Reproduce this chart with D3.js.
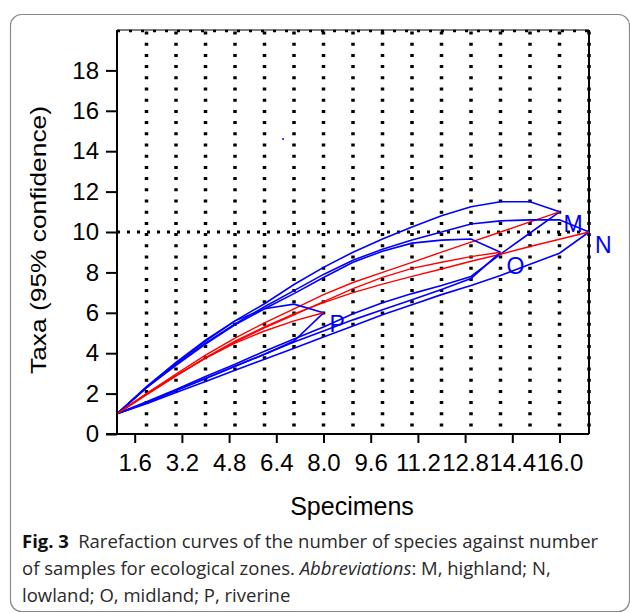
<!DOCTYPE html>
<html>
<head>
<meta charset="utf-8">
<script src="https://cdn.jsdelivr.net/npm/d3@7"></script>
<style>
body { margin: 0; background: #fff; }
svg { display: block; }
.tick-label { font-family: "Liberation Sans", Arial, sans-serif; font-size: 24px; fill: #000; }
.zone-label { font-family: "Liberation Sans", Arial, sans-serif; font-size: 23px; fill: #0000ff; }
.caption { font-family: "Open Sans", sans-serif; font-size: 18.5px; fill: #2a2a2a; }
</style>
</head>
<body>
<div id="chart"></div>
<script>
// x ticks and y ticks as printed in the figure
const xTicks = [1.6, 3.2, 4.8, 6.4, 8.0, 9.6, 11.2, 12.8, 14.4, 16.0]
const xTickLabels = ['1.6', '3.2', '4.8', '6.4', '8.0', '9.6', '11.2', '12.8', '14.4', '16.0']
const yTicks = [0, 2, 4, 6, 8, 10, 12, 14, 16, 18]
const gridX = [2, 3, 4, 5, 6, 7, 8, 9, 10, 11, 12, 13, 14, 15, 16]
const gridY = [10]

// specimens (sample count) for each zone
const specM = [1, 2, 3, 4, 5, 6, 7, 8, 9, 10, 11, 12, 13, 14, 15, 16]
const specN = [1, 2, 3, 4, 5, 6, 7, 8, 9, 10, 11, 12, 13, 14, 15, 16, 17]
const specO = [1, 2, 3, 4, 5, 6, 7, 8, 9, 10, 11, 12, 13, 14]
const specP = [1, 2, 3, 4, 5, 6, 7, 8]

// M highland
const meanM  = [1, 2.0, 2.97, 3.9, 4.75, 5.5, 6.2, 6.9, 7.5, 8.0, 8.5, 9.0, 9.5, 10.0, 10.5, 11]
const upperM = [1, 2.35, 3.55, 4.65, 5.6, 6.45, 7.4, 8.25, 9.0, 9.65, 10.25, 10.8, 11.25, 11.5, 11.5, 11]
const lowerM = [1, 1.6, 2.2, 2.85, 3.45, 4.1, 4.7, 5.3, 5.95, 6.5, 6.95, 7.35, 7.8, 8.9, 9.95, 11]
// N lowland
const meanN  = [1, 1.95, 2.88, 3.78, 4.6, 5.3, 5.95, 6.5, 7.0, 7.42, 7.8, 8.17, 8.55, 8.9, 9.28, 9.64, 10]
const upperN = [1, 2.3, 3.45, 4.5, 5.45, 6.3, 7.1, 7.9, 8.6, 9.15, 9.6, 10.0, 10.4, 10.55, 10.6, 10.6, 10]
const lowerN = [1, 1.5, 2.05, 2.6, 3.15, 3.7, 4.25, 4.8, 5.35, 5.9, 6.4, 6.9, 7.35, 7.85, 8.4, 8.95, 10]
// O midland
const meanO  = [1, 1.95, 2.88, 3.75, 4.55, 5.25, 5.9, 6.55, 7.2, 7.75, 8.2, 8.5, 8.78, 9]
const upperO = [1, 2.3, 3.4, 4.45, 5.4, 6.2, 6.95, 7.75, 8.5, 9.05, 9.45, 9.6, 9.65, 9]
const lowerO = [1, 1.55, 2.15, 2.75, 3.35, 3.95, 4.55, 5.1, 5.65, 6.15, 6.65, 7.15, 7.7, 9]
// P riverine
const meanP  = [1, 2.0, 2.9, 3.75, 4.5, 5.1, 5.6, 6]
const upperP = [1, 2.3, 3.5, 4.6, 5.6, 6.2, 6.43, 6]
const lowerP = [1, 1.55, 2.15, 2.75, 3.35, 3.95, 4.6, 6]

const zoneNames = ['M', 'N', 'O', 'P']
const strayDot = [6.63, 14.6]

const zones = [
  {name: zoneNames[0], x: specM, mean: meanM, upper: upperM, lower: lowerM, dx: 4, dy: 20},
  {name: zoneNames[1], x: specN, mean: meanN, upper: upperN, lower: lowerN, dx: 6, dy: 21},
  {name: zoneNames[2], x: specO, mean: meanO, upper: upperO, lower: lowerO, dx: 6, dy: 22},
  {name: zoneNames[3], x: specP, mean: meanP, upper: upperP, lower: lowerP, dx: 6, dy: 19}
]

const width = 630, height = 613

const svg = d3.select('#chart')
.append('svg')
.attr('width', width)
.attr('height', height)

// caption box
svg.append('rect')
.attr('x', 10.5).attr('y', 14.5)
.attr('width', 619).attr('height', 597)
.attr('rx', 11)
.attr('fill', 'none')
.attr('stroke', '#8a8a8a')
.attr('stroke-width', 1.2)

const x = d3.scaleLinear().domain([1, 17]).range([117, 589])
const y = d3.scaleLinear().domain([0, 20]).range([434, 30])

// dotted grid
svg.selectAll('.vgrid')
.data(gridX)
.enter()
.append('line')
.attr('class', 'vgrid')
.attr('x1', d => x(d)).attr('x2', d => x(d))
.attr('y1', y(0)).attr('y2', y(20))
.attr('stroke', '#000')
.attr('stroke-width', 3.5)
.attr('stroke-dasharray', '3,8.2')
.attr('stroke-dashoffset', 3.7)

svg.selectAll('.hgrid')
.data(gridY)
.enter()
.append('line')
.attr('class', 'hgrid')
.attr('x1', x(1)).attr('x2', x(17))
.attr('y1', d => y(d)).attr('y2', d => y(d))
.attr('stroke', '#000')
.attr('stroke-width', 3)
.attr('stroke-dasharray', '3,7')

// frame: top dotted, right solid
svg.append('line')
.attr('x1', x(1)).attr('x2', x(17))
.attr('y1', y(20)).attr('y2', y(20))
.attr('stroke', '#000').attr('stroke-width', 1.2)
svg.append('line')
.attr('x1', x(1)).attr('x2', x(17))
.attr('y1', y(20) + 1).attr('y2', y(20) + 1)
.attr('stroke', '#000').attr('stroke-width', 2.5)
.attr('stroke-dasharray', '3,9')
svg.append('line')
.attr('x1', x(17)).attr('x2', x(17))
.attr('y1', y(20)).attr('y2', y(0))
.attr('stroke', '#000').attr('stroke-width', 2)
svg.append('line')
.attr('x1', x(17)).attr('x2', x(17))
.attr('y1', y(0)).attr('y2', y(20))
.attr('stroke', '#000').attr('stroke-width', 3.5)
.attr('stroke-dasharray', '3,8.2')
.attr('stroke-dashoffset', 3.7)

// curves
const line = d3.line()
.curve(d3.curveLinear)

zones.forEach(z => {
  const pts = key => z.x.map((s, i) => [x(s), y(z[key][i])])
  ;['upper', 'lower'].forEach(k => {
    svg.append('path')
    .attr('d', line(pts(k)))
    .attr('fill', 'none')
    .attr('stroke', '#0000ff')
    .attr('stroke-width', 1.6)
  })
  svg.append('path')
  .attr('d', line(pts('mean')))
  .attr('fill', 'none')
  .attr('stroke', '#ff0000')
  .attr('stroke-width', 1.4)
})

// zone labels at end points
svg.selectAll('.zone-label')
.data(zones)
.enter()
.append('text')
.attr('class', 'zone-label')
.attr('x', d => x(d.x[d.x.length - 1]) + d.dx)
.attr('y', d => y(d.mean[d.mean.length - 1]) + d.dy)
.text(d => d.name)

svg.append('circle')
.attr('cx', x(strayDot[0])).attr('cy', y(strayDot[1]))
.attr('r', 1).attr('fill', '#0000ff')

// axes
const yAxis = svg.append('g')
.attr('transform', `translate(${x(1)},0)`)
.call(d3.axisLeft(y).tickValues(yTicks).tickSize(11).tickPadding(7).tickFormat(d3.format('d')))

const xAxis = svg.append('g')
.attr('transform', `translate(0,${y(0)})`)
.call(d3.axisBottom(x).tickValues(xTicks).tickSize(9).tickPadding(11).tickFormat((d, i) => xTickLabels[i]))

;[xAxis, yAxis].forEach(a => {
  a.select('.domain').attr('stroke-width', 2).attr('stroke', '#000')
  a.selectAll('.tick line').attr('stroke-width', 2).attr('stroke', '#000')
  a.selectAll('.tick text').attr('class', 'tick-label').attr('font-size', null).attr('font-family', null)
})
xAxis.select('.domain').attr('d', `M${x(1) - 11},0H${x(17)}`)
yAxis.select('.domain').attr('d', `M0,${y(0)}V${y(20)}`)

// axis titles
svg.append('text')
.attr('x', 352).attr('y', 515)
.attr('text-anchor', 'middle')
.attr('font-family', '"Liberation Sans", Arial, sans-serif')
.attr('font-size', 25)
.text('Specimens')

svg.append('text')
.attr('transform', 'translate(46,240) rotate(-90)')
.attr('text-anchor', 'middle')
.attr('font-family', '"Liberation Sans", Arial, sans-serif')
.attr('font-size', 22)
.attr('textLength', 268)
.attr('lengthAdjust', 'spacingAndGlyphs')
.text('Taxa (95% confidence)')

// caption
const cap = svg.append('g').attr('class', 'caption')
const l1 = cap.append('text').attr('x', 22).attr('y', 548)
l1.append('tspan').attr('font-weight', 'bold').attr('fill', '#111').text('Fig. 3')
l1.append('tspan').text('\u2002Rarefaction curves of the number of species against number')
const l2 = cap.append('text').attr('x', 22).attr('y', 575)
l2.append('tspan').text('of samples for ecological zones. ')
l2.append('tspan').attr('font-style', 'italic').text('Abbreviations')
l2.append('tspan').text(': M, highland; N,')
cap.append('text').attr('x', 22).attr('y', 602).text('lowland; O, midland; P, riverine')
</script>
</body>
</html>
